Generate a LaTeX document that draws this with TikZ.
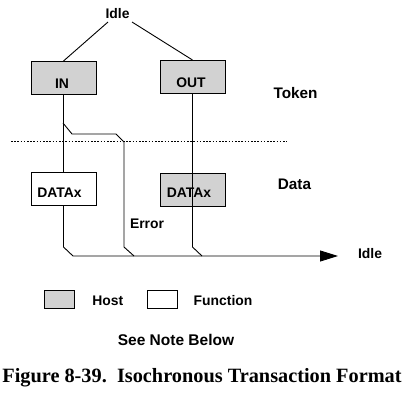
\documentclass[tikz,border=0pt]{standalone}
\usepackage{fontspec}
\setmainfont{Liberation Sans}
\newfontfamily\capfont{Liberation Serif}
\usetikzlibrary{arrows.meta}
\definecolor{hostgray}{RGB}{210,210,210}
\tikzset{
  boxh/.style={draw=black,line width=1pt,fill=hostgray,minimum width=65pt,minimum height=33pt,inner sep=0pt,outer sep=0pt},
  boxf/.style={draw=black,line width=1pt,fill=white,minimum width=65pt,minimum height=33pt,inner sep=0pt,outer sep=0pt},
  legh/.style={draw=black,line width=0.9pt,fill=hostgray,minimum width=30pt,minimum height=18pt,inner sep=0pt},
  legf/.style={draw=black,line width=0.9pt,fill=white,minimum width=30pt,minimum height=18pt,inner sep=0pt},
  lbl/.style={font=\bfseries\fontsize{13.9}{15}\selectfont,anchor=base,inner sep=0pt},
  biglbl/.style={font=\bfseries\fontsize{15.3}{17}\selectfont,anchor=base,inner sep=0pt},
  conn/.style={line width=0.9pt,line join=miter},
}
\begin{document}
\begin{tikzpicture}[x=1pt,y=-1pt]
\useasboundingbox (0,0) rectangle (402,394);
% boxes
\node[boxh] (in) at (63.5,77.5) {};
\node[boxh] (out) at (192.5,76.5) {};
\node[boxf] (dl) at (63.5,189) {};
\node[boxh] (dr) at (192.5,189.5) {};
% texts
\node[lbl] (idletop) at (117.5,18) {Idle};
\node[lbl] (intxt) at (62,88) {IN};
\node[lbl] (outtxt) at (191,87.5) {OUT};
\node[lbl] (dltxt) at (59.5,197) {DATAx};
\node[lbl] (drtxt) at (189,197) {DATAx};
\node[biglbl] (token) at (295.5,98) {Token};
\node[biglbl] (data) at (294.5,189) {Data};
\node[lbl] (error) at (147,228) {Error};
\node[lbl] (idler) at (370,258) {Idle};
% connectors
\coordinate (itl) at (108,22);
\coordinate (itr) at (132,22);
\draw[conn] (itl) -- (in.north);
\draw[conn] (itr) -- (out.north);
\coordinate (split) at (63,123);
\coordinate (arrend) at (338,256);
\draw[conn] (in.south) -- (dl.north);
\draw[conn] (out.south) -- (dr.south);
\draw[conn] (split) -- (72,134) -- (116,134) -- (124,142) -- (124,247) -- (134,256);
\draw[conn] (dr.south) -- (192.5,247) -- (202,256);
\draw[conn,-{Triangle[length=18pt,width=11pt]}] (dl.south) -- (63.5,247) -- (73,256) -- (arrend);
% dotted separator
\coordinate (dotl) at (11,141);
\coordinate (dotr) at (287,141);
\draw[line width=0.6pt,dash pattern=on 1.6pt off 1.6pt] (dotl) -- (dotr);
% legend
\node[legh] (lh) at (59,299) {};
\node[legf] (lf) at (162,299) {};
\node[lbl] (host) at (107.7,305) {Host};
\node[lbl] (func) at (223,305) {Function};
\node[font=\bfseries\fontsize{15.5}{17}\selectfont,anchor=base,inner sep=0pt] (note) at (176,345) {See Note Below};
\node[font=\capfont\bfseries\fontsize{20.3}{22}\selectfont,anchor=base,inner sep=0pt] (cap) at (202,382) {Figure 8-39.\ \ Isochronous Transaction Format};
\end{tikzpicture}
\end{document}
